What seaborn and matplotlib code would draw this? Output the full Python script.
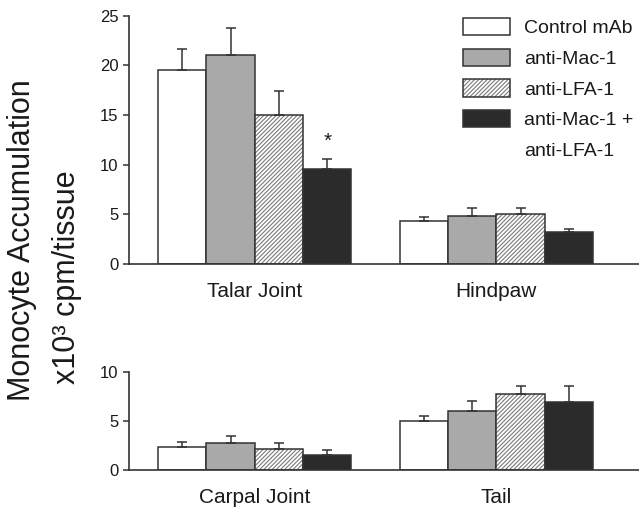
import pandas as pd
import matplotlib
matplotlib.use("Agg")
import matplotlib.pyplot as plt
import seaborn as sns
from matplotlib.colors import to_rgba
from matplotlib.patches import Patch

# dados (x10^3 cpm/tecido)
tratamentos = ["Control mAb", "anti-Mac-1", "anti-LFA-1", "anti-Mac-1 +\nanti-LFA-1"]
locais_sup = ["Talar Joint", "Hindpaw"]
locais_inf = ["Carpal Joint", "Tail"]

media_sup = {
    "Talar Joint": [19.5, 21.0, 15.0, 9.6],
    "Hindpaw": [4.3, 4.8, 5.0, 3.2],
}
erro_sup = {
    "Talar Joint": [2.2, 2.8, 2.4, 1.0],
    "Hindpaw": [0.4, 0.8, 0.7, 0.3],
}
media_inf = {
    "Carpal Joint": [2.3, 2.7, 2.1, 1.5],
    "Tail": [4.95, 5.95, 7.7, 6.9],
}
erro_inf = {
    "Carpal Joint": [0.55, 0.8, 0.65, 0.5],
    "Tail": [0.55, 1.1, 0.8, 1.6],
}
# asterisco de significancia (local, tratamento)
significativos = [("Talar Joint", "anti-Mac-1 +\nanti-LFA-1")]

cores = {
    "Control mAb": "#ffffff",
    "anti-Mac-1": "#a9a9a9",
    "anti-LFA-1": "#ffffff",
    "anti-Mac-1 +\nanti-LFA-1": "#2b2b2b",
}
borda = "#333333"
texto = "#1a1a1a"


def montar_df(medias, locais):
    linhas = []
    for local in locais:
        for t, v in zip(tratamentos, medias[local]):
            linhas.append({"local": local, "tratamento": t, "valor": v})
    return pd.DataFrame(linhas)


sns.set_style("ticks")
plt.rcParams["font.family"] = ["Liberation Sans", "DejaVu Sans"]
plt.rcParams["hatch.linewidth"] = 0.8

fig = plt.figure(figsize=(6.39, 5.07), dpi=100)
ax1 = fig.add_axes([0.202, 0.479, 0.798, 0.490])
ax2 = fig.add_axes([0.202, 0.073, 0.798, 0.194])


def desenhar(ax, medias, erros, locais, ymax, passo):
    df = montar_df(medias, locais)
    sns.barplot(data=df, x="local", y="valor", hue="tratamento",
                order=locais, hue_order=tratamentos, palette=cores,
                edgecolor=borda, linewidth=1.1, width=0.8, errorbar=None,
                legend=False, ax=ax)
    barras = list(ax.containers)
    for i, cont in enumerate(barras):
        t = tratamentos[i]
        xs = [b.get_x() + b.get_width() / 2 for b in cont]
        hs = [b.get_height() for b in cont]
        es = [erros[loc][i] for loc in locais]
        if t == "anti-LFA-1":
            for b in cont:
                b.set_hatch("////////")
                b._hatch_color = to_rgba("#7a7a7a")
        ax.errorbar(xs, hs, yerr=[[0] * len(es), es], fmt="none",
                    ecolor=borda, elinewidth=1.1, capsize=3.5, capthick=1.1,
                    zorder=1)
        for loc, x, h, e in zip(locais, xs, hs, es):
            if (loc, t) in significativos:
                ax.annotate("*", (x, h + e), xytext=(0, 6),
                            textcoords="offset points", ha="center",
                            va="bottom", fontsize=15, color=texto)
    ax.set_ylim(0, ymax)
    ax.set_xlim(-0.52, 1.59)
    ax.set_yticks(range(0, ymax + 1, passo))
    ax.set_xlabel("")
    ax.set_ylabel("")
    sns.despine(ax=ax)
    for s in ["left", "bottom"]:
        ax.spines[s].set_color(borda)
        ax.spines[s].set_linewidth(1.2)
    ax.tick_params(axis="y", length=4.5, width=1.1, color=borda,
                   labelsize=12, pad=3, labelcolor=texto)
    ax.tick_params(axis="x", length=0, labelsize=15, pad=13,
                   labelcolor=texto)
    return barras


barras_sup = desenhar(ax1, media_sup, erro_sup, locais_sup, 25, 5)
desenhar(ax2, media_inf, erro_inf, locais_inf, 10, 5)

# legenda com a segunda linha do ultimo rotulo como entrada separada
handles = [cont[0] for cont in barras_sup]
rotulos = ["Control mAb", "anti-Mac-1", "anti-LFA-1", "anti-Mac-1 +"]
handles.append(Patch(facecolor="none", edgecolor="none"))
rotulos.append("anti-LFA-1")
ax1.legend(handles, rotulos, loc="upper left",
           bbox_to_anchor=(463 / 639, 1 - 18 / 507),
           bbox_transform=fig.transFigure, frameon=False, fontsize=14,
           handlelength=2.4, handleheight=1.0, handletextpad=0.75,
           labelspacing=0.58, borderpad=0, borderaxespad=0,
           labelcolor=texto)

fig.text(22 / 639, 1 - 240 / 507, "Monocyte Accumulation", rotation=90,
         ha="center", va="center", fontsize=22, color=texto)
fig.text(67 / 639, 1 - 277 / 507, "x10³ cpm/tissue", rotation=90,
         ha="center", va="center", fontsize=22, color=texto)

fig.savefig("out.png", dpi=100, facecolor="white")
